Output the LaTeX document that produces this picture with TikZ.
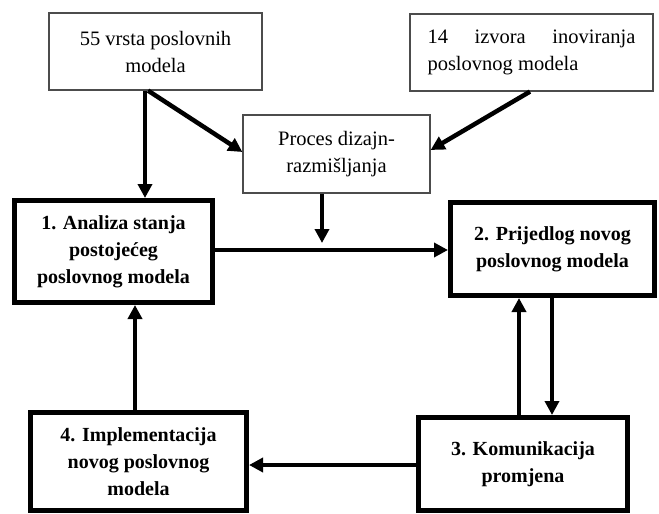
\documentclass[tikz,border=0pt]{standalone}
\usepackage{fontspec}
\setmainfont{Liberation Serif}
\usetikzlibrary{arrows.meta}
\begin{document}
\begin{tikzpicture}[x=1pt,y=-1pt,
  thinbox/.style={draw=black!70,line width=1.2pt,fill=white,inner sep=0pt,
    font=\fontsize{20.5}{27}\selectfont,align=center},
  boldbox/.style={draw=black,line width=5pt,fill=white,inner sep=0pt,
    font=\fontsize{20}{27}\selectfont\bfseries,align=center},
  arr/.style={line width=4.5pt,-{Triangle[length=14pt,width=14pt]}}]
\useasboundingbox (0,0) rectangle (659,514);
\node[thinbox,minimum width=213pt,minimum height=77pt] (A) at (155.5,51.5) {55 vrsta poslovnih\\modela};
\node[thinbox,minimum width=243pt,minimum height=77pt,text width=208pt,align=justify] (B) at (531.5,52.5) {14 izvora inoviranja poslovnog modela};
\node[thinbox,minimum width=187pt,minimum height=78pt] (P) at (336.5,154) {Proces dizajn-\\razmišljanja};
\node[boldbox,minimum width=198pt,minimum height=102pt] (S1) at (113.5,251.5) {1. Analiza stanja\\postojećeg\\poslovnog modela};
\node[boldbox,minimum width=204pt,minimum height=93pt] (S2) at (552.5,249) {2. Prijedlog novog\\poslovnog modela};
\node[boldbox,minimum width=209pt,minimum height=93pt] (S3) at (523,464) {3. Komunikacija\\promjena};
\node[boldbox,minimum width=216pt,minimum height=98pt] (S4) at (138.5,461.5) {4. Implementacija\\novog poslovnog\\modela};
\coordinate (xa) at (145,0);
\coordinate (xb) at (148,0);
\coordinate (pb) at (0,152);
\coordinate (bb) at (530,0);
\coordinate (pc) at (0,150);
\coordinate (xp) at (322,0);
\coordinate (tip) at (322,243);
\coordinate (y12) at (0,250);
\coordinate (xd) at (552,0);
\coordinate (xu) at (519,0);
\coordinate (y34) at (0,465);
\coordinate (x41) at (135,0);
\draw[arr] (A.south -| xa) -- (S1.north -| xa);
\draw[arr] (A.south -| xb) -- (P.west |- pb);
\draw[arr] (B.south -| bb) -- (P.east |- pc);
\draw[arr] (P.south -| xp) -- (tip);
\draw[arr] (S1.east |- y12) -- (S2.west |- y12);
\draw[arr] (S2.south -| xd) -- (S3.north -| xd);
\draw[arr] (S3.north -| xu) -- (S2.south -| xu);
\draw[arr] (S3.west |- y34) -- (S4.east |- y34);
\draw[arr] (S4.north -| x41) -- (S1.south -| x41);
\end{tikzpicture}
\end{document}
